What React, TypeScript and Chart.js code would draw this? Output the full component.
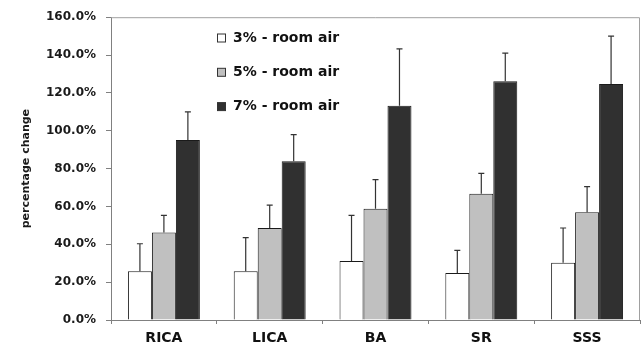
import React, { useEffect, useRef } from "react";
import { Chart, registerables } from "chart.js";

Chart.register(...registerables);

const categories = ["RICA", "LICA", "BA", "SR", "SSS"];
const seriesLabels = ["3% - room air", "5% - room air", "7% - room air"];
const s3 = [25.8, 25.8, 31.2, 24.9, 30.2];
const s3Sd = [14.5, 17.7, 24.1, 11.9, 18.4];
const s5 = [46.3, 48.6, 58.8, 66.7, 57.0];
const s5Sd = [9.0, 12.1, 15.4, 10.8, 13.5];
const s7 = [95.1, 83.9, 113.2, 126.2, 124.7];
const s7Sd = [14.9, 14.0, 30.1, 14.8, 25.3];
const yTicks = [0, 20, 40, 60, 80, 100, 120, 140, 160];

const colors = ["#ffffff", "#c0c0c0", "#303030"];
const FONT = "'DejaVu Sans', sans-serif";

const errorBarPlugin = {
  id: "errorBars",
  afterDatasetsDraw(chart: any) {
    const { ctx } = chart;
    const y = chart.scales.y;
    chart.data.datasets.forEach((ds: any, di: number) => {
      const meta = chart.getDatasetMeta(di);
      meta.data.forEach((el: any, i: number) => {
        const top = y.getPixelForValue(ds.data[i] + ds.sd[i]);
        ctx.save();
        ctx.strokeStyle = "#333333";
        ctx.lineWidth = 1.2;
        ctx.beginPath();
        ctx.moveTo(el.x, el.y);
        ctx.lineTo(el.x, top);
        ctx.moveTo(el.x - 3, top);
        ctx.lineTo(el.x + 3, top);
        ctx.stroke();
        ctx.restore();
      });
    });
  },
};

const framePlugin = {
  id: "frame",
  beforeDatasetsDraw(chart: any) {
    const { ctx, chartArea: a } = chart;
    ctx.save();
    ctx.strokeStyle = "#a0a0a0";
    ctx.lineWidth = 1;
    ctx.beginPath();
    ctx.moveTo(a.left, a.top + 0.5);
    ctx.lineTo(a.right - 0.5, a.top + 0.5);
    ctx.lineTo(a.right - 0.5, a.bottom);
    ctx.stroke();
    ctx.restore();
  },
};

const legendPlugin = {
  id: "insideLegend",
  afterDraw(chart: any) {
    const { ctx } = chart;
    chart.data.datasets.forEach((ds: any, i: number) => {
      const cy = 38 + i * 34.3;
      ctx.save();
      ctx.fillStyle = ds.backgroundColor;
      ctx.fillRect(217.5, cy - 4, 8, 8);
      ctx.strokeStyle = "#333333";
      ctx.lineWidth = 1;
      ctx.strokeRect(217.5, cy - 4, 8, 8);
      ctx.fillStyle = "#111111";
      ctx.font = `bold 14px ${FONT}`;
      ctx.textBaseline = "middle";
      ctx.textAlign = "left";
      ctx.fillText(ds.label, 233, cy);
      ctx.restore();
    });
  },
};

export default function App() {
  const ref = useRef<HTMLCanvasElement>(null);
  useEffect(() => {
    document.body.style.margin = "0";
    const chart = new Chart(ref.current!, {
      type: "bar",
      data: {
        labels: categories,
        datasets: [
          { label: seriesLabels[0], data: s3, sd: s3Sd, backgroundColor: colors[0] } as any,
          { label: seriesLabels[1], data: s5, sd: s5Sd, backgroundColor: colors[1] } as any,
          { label: seriesLabels[2], data: s7, sd: s7Sd, backgroundColor: colors[2] } as any,
        ].map((d: any) => ({
          ...d,
          borderColor: "#1a1a1a",
          borderWidth: 1,
          categoryPercentage: 0.68,
          barPercentage: 1,
        })),
      },
      options: {
        responsive: false,
        animation: false,
        layout: { padding: { left: 0, top: 15, right: 4, bottom: 0 } },
        plugins: { legend: { display: false }, tooltip: { enabled: false } },
        scales: {
          x: {
            offset: true,
            afterFit: (s: any) => {
              s.height = 25;
            },
            grid: {
              display: true,
              drawOnChartArea: false,
              drawTicks: true,
              tickLength: 4,
              color: "#808080",
              offset: true,
            },
            border: { display: true, color: "#808080", width: 1 },
            ticks: {
              color: "#111111",
              padding: 6,
              font: { family: FONT, size: 14, weight: "bold" },
            },
          },
          y: {
            min: 0,
            max: 160,
            afterBuildTicks: (s: any) => {
              s.ticks = yTicks.map((v) => ({ value: v }));
            },
            afterFit: (s: any) => {
              s.width = 111;
            },
            grid: {
              display: true,
              drawOnChartArea: false,
              drawTicks: true,
              tickLength: 5,
              color: "#808080",
            },
            border: { display: true, color: "#808080", width: 1 },
            ticks: {
              color: "#1a1a1a",
              padding: 10,
              font: { family: FONT, size: 12, weight: "bold" },
              callback: (v: any) => Number(v).toFixed(1) + "%",
            },
            title: {
              display: true,
              text: "percentage change",
              color: "#1a1a1a",
              padding: { top: 20, bottom: 0 },
              font: { family: FONT, size: 11, weight: "bold" },
            },
          },
        },
      },
      plugins: [framePlugin, errorBarPlugin, legendPlugin],
    } as any);
    return () => chart.destroy();
  }, []);
  return (
    <div style={{ width: 644, height: 345 }}>
      <canvas ref={ref} width={644} height={345} style={{ display: "block" }} />
    </div>
  );
}
